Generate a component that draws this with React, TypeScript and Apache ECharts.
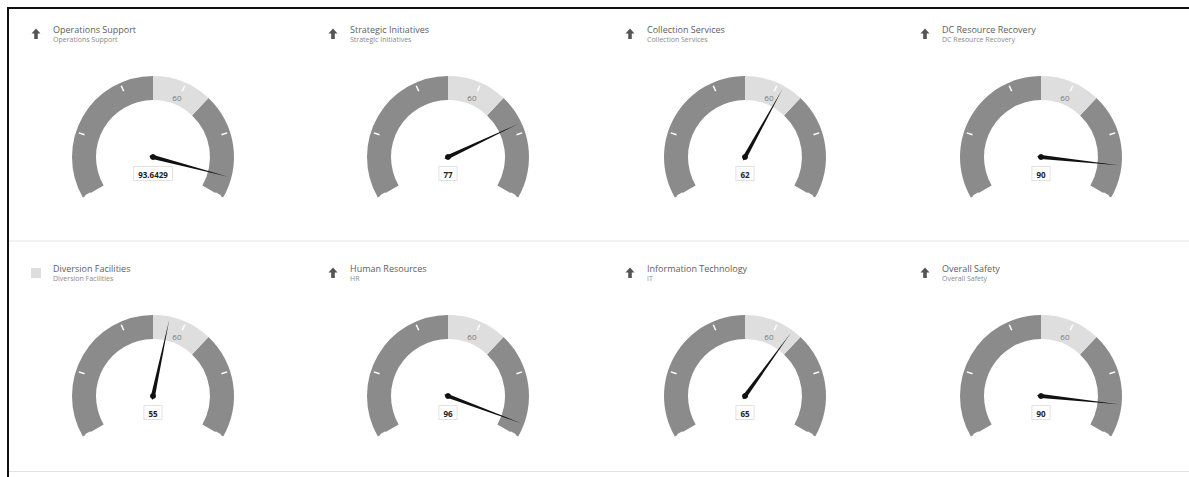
import React, { useEffect, useRef } from "react";
import * as echarts from "echarts";

const titles = [
  "Operations Support",
  "Strategic Initiatives",
  "Collection Services",
  "DC Resource Recovery",
  "Diversion Facilities",
  "Human Resources",
  "Information Technology",
  "Overall Safety",
];
const subtitles = [
  "Operations Support",
  "Strategic Initiatives",
  "Collection Services",
  "DC Resource Recovery",
  "Diversion Facilities",
  "HR",
  "IT",
  "Overall Safety",
];
const values = [93.6429, 77, 62, 90, 55, 96, 65, 90];
const trends = ["up", "up", "up", "up", "none", "up", "up", "up"];
const bandStops = [0.5, 0.68, 1];
const targetLabel = 60;

const W = 1189;
const H = 477;
const colX = [153, 448, 745, 1041];
const rowY = [157, 396];
const titleX = [53, 350, 647, 942];
const titleY = [29, 268];

export default function App() {
  const ref = useRef<HTMLDivElement>(null);
  useEffect(() => {
    document.body.style.margin = "0";
    if (!ref.current) return;
    const chart = echarts.init(ref.current, null, { renderer: "svg" });
    const series: any[] = values.map((v, i) => {
      const col = i % 4;
      const row = Math.floor(i / 4);
      return {
        type: "gauge",
        center: [colX[col], rowY[row]],
        radius: 81,
        startAngle: 210,
        endAngle: -30,
        min: 0,
        max: 100,
        splitNumber: 5,
        axisLine: {
          lineStyle: {
            width: 24,
            color: [
              [bandStops[0], "#8b8b8b"],
              [bandStops[1], "#dedede"],
              [bandStops[2], "#8b8b8b"],
            ],
          },
        },
        axisTick: { show: false },
        splitLine: {
          show: true,
          length: 6,
          distance: -21,
          lineStyle: { color: "#ffffff", width: 1.5 },
        },
        axisLabel: {
          show: true,
          distance: 26,
          align: "center",
          verticalAlign: "middle",
          color: "#7a7a7a",
          fontSize: 8,
          fontFamily: "Open Sans",
          formatter: (val: number) => (val === targetLabel ? String(targetLabel) : ""),
        },
        pointer: {
          show: true,
          length: "96%",
          width: 2,
          itemStyle: { color: "#111111" },
        },
        anchor: {
          show: true,
          size: 6,
          itemStyle: { color: "#111111" },
        },
        title: { show: false },
        detail: {
          show: true,
          offsetCenter: [0, 19],
          width: 60,
          height: 14,
          lineHeight: 14,
          padding: 0,
          backgroundColor: "transparent",
          borderWidth: 0,
          valueAnimation: false,
          formatter: (val: number) => "{b|" + String(val) + "}",
          rich: {
            b: {
              fontSize: 8,
              fontWeight: "bold",
              fontFamily: "Open Sans",
              color: "#222222",
              backgroundColor: "#ffffff",
              borderColor: "#e2e2e2",
              borderWidth: 1,
              padding: [3, 4, 2, 4],
              lineHeight: 9,
            },
          },
        },
        data: [{ value: v, name: titles[i] }],
      };
    });

    const graphics: any[] = [
      { type: "rect", shape: { x: 7, y: 7, width: W - 7, height: 2 }, style: { fill: "#111" } },
      { type: "rect", shape: { x: 7, y: 7, width: 2, height: H - 7 }, style: { fill: "#111" } },
      { type: "rect", shape: { x: 9, y: 471, width: W - 9, height: 1 }, style: { fill: "#e2e2e2" } },
      { type: "rect", shape: { x: 9, y: 240, width: W - 9, height: 2 }, style: { fill: "#f3f3f3" } },
    ];
    titles.forEach((t, i) => {
      const col = i % 4;
      const row = Math.floor(i / 4);
      const tx = titleX[col];
      const ty = titleY[row];
      graphics.push({
        type: "text",
        x: tx,
        y: ty,
        style: {
          text: t,
          fontSize: 9,
          fontFamily: "Open Sans",
          fill: "#5e5e5e",
          verticalAlign: "middle",
        },
      });
      graphics.push({
        type: "text",
        x: tx,
        y: ty + 10,
        style: {
          text: subtitles[i],
          fontSize: 7,
          fontFamily: "Open Sans",
          fill: "#8a8a8a",
          verticalAlign: "middle",
        },
      });
      const ix = tx - 17;
      const iy = ty + 5;
      if (trends[i] === "up") {
        graphics.push({
          type: "polygon",
          shape: {
            points: [
              [ix, iy - 5.5],
              [ix + 4.5, iy - 0.5],
              [ix + 1.8, iy - 0.5],
              [ix + 1.8, iy + 5],
              [ix - 1.8, iy + 5],
              [ix - 1.8, iy - 0.5],
              [ix - 4.5, iy - 0.5],
            ],
          },
          style: { fill: "#555555" },
        });
      } else {
        graphics.push({
          type: "rect",
          shape: { x: ix - 5, y: iy - 5, width: 10, height: 10 },
          style: { fill: "#dddddd" },
        });
      }
    });

    chart.setOption({
      animation: false,
      backgroundColor: "#ffffff",
      series,
      graphic: graphics,
    });
    return () => chart.dispose();
  }, []);
  return <div ref={ref} style={{ width: W, height: H }} />;
}
